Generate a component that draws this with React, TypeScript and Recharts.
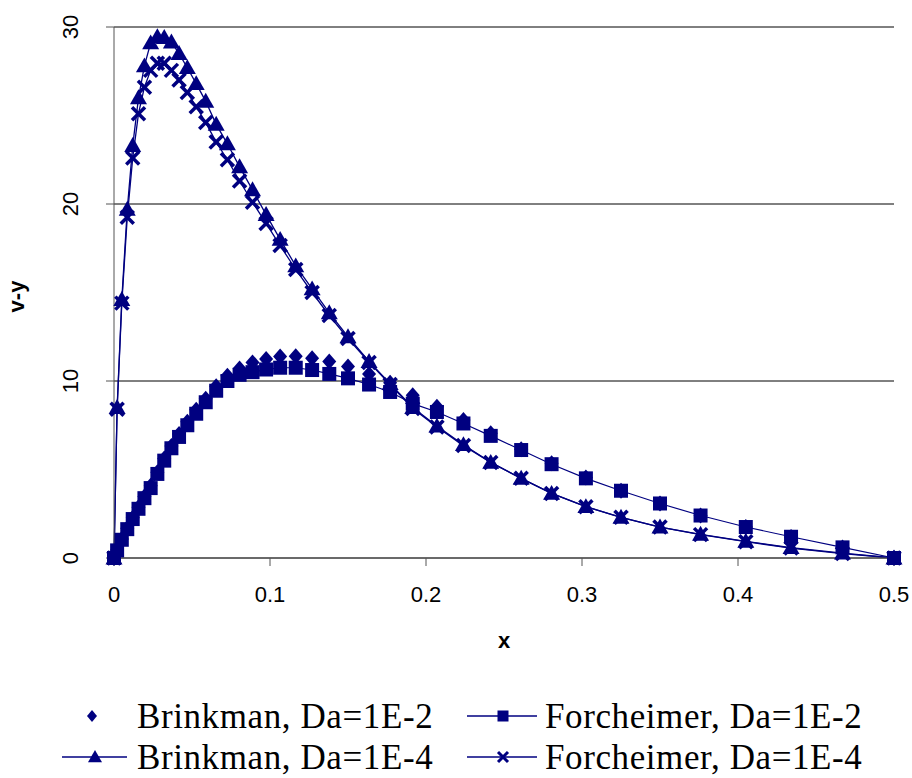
import React from 'react';
import { LineChart, Line, XAxis, YAxis, CartesianGrid, Legend } from 'recharts';

const NAVY = '#000080';

// shared x grid of all four series
const xs = [
  0, 0.002, 0.005, 0.0085, 0.012, 0.0157, 0.0195, 0.0235, 0.0278, 0.0322,
  0.0368, 0.0417, 0.047, 0.0527, 0.0588, 0.0655, 0.0727, 0.0805, 0.0888, 0.0975,
  0.1065, 0.1165, 0.127, 0.138, 0.15, 0.1635, 0.177, 0.1915, 0.207, 0.224,
  0.2415, 0.261, 0.2805, 0.3025, 0.325, 0.35, 0.376, 0.405, 0.434, 0.467, 0.5,
];

const brinkmanDa2 = [
  0, 0.45, 1.07, 1.68, 2.27, 2.87, 3.47, 4.08, 4.85, 5.62,
  6.33, 7.0, 7.7, 8.38, 9.0, 9.7, 10.3, 10.7, 11.05, 11.25,
  11.38, 11.4, 11.28, 11.1, 10.82, 10.4, 9.9, 9.2, 8.55, 7.8,
  7.05, 6.15, 5.35, 4.55, 3.8, 3.08, 2.4, 1.75, 1.18, 0.6, 0,
];

const forchDa2 = [
  0, 0.43, 1.03, 1.63, 2.2, 2.78, 3.38, 3.95, 4.75, 5.5,
  6.2, 6.84, 7.5, 8.15, 8.8, 9.45, 10.0, 10.35, 10.5, 10.65,
  10.75, 10.75, 10.62, 10.4, 10.15, 9.8, 9.38, 8.72, 8.25, 7.6,
  6.9, 6.1, 5.3, 4.5, 3.8, 3.08, 2.4, 1.75, 1.2, 0.6, 0,
];

const brinkmanDa4 = [
  0, 8.5, 14.6, 19.7, 23.3, 26.0, 27.8, 29.1, 29.45, 29.4,
  29.15, 28.5, 27.7, 26.8, 25.8, 24.5, 23.4, 22.1, 20.8, 19.4,
  18.0, 16.5, 15.2, 13.85, 12.5, 11.1, 9.85, 8.5, 7.45, 6.4,
  5.4, 4.5, 3.65, 2.9, 2.3, 1.75, 1.34, 0.94, 0.58, 0.27, 0,
];

const forchDa4 = [
  0, 8.4, 14.4, 19.25, 22.6, 25.1, 26.6, 27.55, 27.95, 27.95,
  27.55, 27.0, 26.3, 25.5, 24.6, 23.5, 22.5, 21.3, 20.1, 18.9,
  17.65, 16.3, 15.0, 13.7, 12.4, 11.05, 9.8, 8.45, 7.4, 6.35,
  5.4, 4.5, 3.65, 2.9, 2.3, 1.75, 1.32, 0.92, 0.56, 0.25, 0,
];

const xTicks = [0, 0.1, 0.2, 0.3, 0.4, 0.5];
const yTicks = [0, 10, 20, 30];

const toPoints = (vals: number[]) => xs.map((x, i) => ({ x, y: vals[i] }));

const diamondShape = (cx: number, cy: number, w: number, h: number, key?: string) => (
  <polygon key={key} points={`${cx},${cy - h} ${cx + w},${cy} ${cx},${cy + h} ${cx - w},${cy}`} fill={NAVY} />
);
const squareShape = (cx: number, cy: number, s: number, key?: string) => (
  <rect key={key} x={cx - s} y={cy - s} width={s * 2} height={s * 2} fill={NAVY} />
);
const triangleShape = (cx: number, cy: number, s: number, key?: string) => (
  <polygon key={key} points={`${cx},${cy - s} ${cx + s},${cy + s * 0.75} ${cx - s},${cy + s * 0.75}`} fill={NAVY} />
);
const crossShape = (cx: number, cy: number, s: number, w: number, key?: string) => (
  <g key={key} stroke={NAVY} strokeWidth={w}>
    <line x1={cx - s} y1={cy - s} x2={cx + s} y2={cy + s} />
    <line x1={cx - s} y1={cy + s} x2={cx + s} y2={cy - s} />
  </g>
);

const DiamondDot = (p: any) => diamondShape(p.cx, p.cy, 7, 8, `d${p.index}`);
const SquareDot = (p: any) => squareShape(p.cx, p.cy, 7, `s${p.index}`);
const TriangleDot = (p: any) => triangleShape(p.cx, p.cy, 8.5, `t${p.index}`);
const CrossDot = (p: any) => crossShape(p.cx, p.cy, 6.5, 3.5, `c${p.index}`);

const YTick = ({ x, y, payload }: any) => (
  <text
    x={x - 26}
    y={y}
    transform={`rotate(-90 ${x - 26} ${y})`}
    textAnchor="middle"
    fontFamily="Liberation Sans, Arial, sans-serif"
    fontSize={22}
    fill="#000"
  >
    {payload.value}
  </text>
);

const YLabel = ({ viewBox }: any) => {
  const cy = viewBox.y + viewBox.height / 2 + 4;
  return (
    <text
      x={24}
      y={cy}
      transform={`rotate(-90 24 ${cy})`}
      textAnchor="middle"
      fontFamily="Liberation Sans, Arial, sans-serif"
      fontWeight="bold"
      fontSize={22}
      fill="#000"
    >
      v-y
    </text>
  );
};

const XLabel = ({ viewBox }: any) => (
  <text
    x={viewBox.x + viewBox.width / 2}
    y={648}
    textAnchor="middle"
    fontFamily="Liberation Sans, Arial, sans-serif"
    fontWeight="bold"
    fontSize={22}
    fill="#000"
  >
    x
  </text>
);

const legendText = {
  fontFamily: 'Liberation Serif, Times New Roman, serif',
  fontSize: 35,
  letterSpacing: 0.6,
  fill: '#000',
};

const ChartLegend = () => (
  <svg width={912} height={80} style={{ display: 'block' }}>
    {diamondShape(92, 18, 5, 6)}
    <text x={137} y={30} {...legendText}>Brinkman, Da=1E-2</text>
    <line x1={467} y1={18} x2={537} y2={18} stroke={NAVY} strokeWidth={1.5} />
    {squareShape(503, 18, 5.5)}
    <text x={545} y={30} {...legendText}>Forcheimer, Da=1E-2</text>
    <line x1={62} y1={59} x2={127} y2={59} stroke={NAVY} strokeWidth={1.5} />
    {triangleShape(95, 59, 7)}
    <text x={137} y={71} {...legendText}>Brinkman, Da=1E-4</text>
    <line x1={467} y1={59} x2={537} y2={59} stroke={NAVY} strokeWidth={1.5} />
    {crossShape(503, 59, 5, 3)}
    <text x={545} y={71} {...legendText}>Forcheimer, Da=1E-4</text>
  </svg>
);

export default function App() {
  return (
    <div style={{ position: 'absolute', left: 0, top: 0, width: 912, height: 778, background: '#fff' }}>
      <LineChart width={912} height={778} margin={{ top: 27, right: 18, bottom: 0, left: 0 }} style={{ overflow: 'visible' }}>
        <CartesianGrid vertical={false} stroke="#000" strokeWidth={1} />
        <XAxis
          type="number"
          dataKey="x"
          domain={[0, 0.5]}
          ticks={xTicks}
          tickFormatter={(v: number) => String(v)}
          height={140}
          tickSize={8}
          tickMargin={20}
          stroke="#555"
          tick={{ fill: '#000', fontSize: 22, fontFamily: 'Liberation Sans, Arial, sans-serif' }}
          label={<XLabel />}
        />
        <YAxis
          type="number"
          domain={[0, 30]}
          ticks={yTicks}
          width={114}
          tickSize={8}
          stroke="#555"
          tick={<YTick />}
          label={<YLabel />}
        />
        <Legend verticalAlign="bottom" height={80} content={() => <ChartLegend />} wrapperStyle={{ left: 0, width: 912 }} />
        <Line data={toPoints(brinkmanDa2)} dataKey="y" name="Brinkman, Da=1E-2" stroke="none" dot={DiamondDot} isAnimationActive={false} />
        <Line data={toPoints(forchDa2)} dataKey="y" name="Forcheimer, Da=1E-2" stroke={NAVY} strokeWidth={1.2} dot={SquareDot} isAnimationActive={false} />
        <Line data={toPoints(brinkmanDa4)} dataKey="y" name="Brinkman, Da=1E-4" stroke={NAVY} strokeWidth={1.3} dot={TriangleDot} isAnimationActive={false} />
        <Line data={toPoints(forchDa4)} dataKey="y" name="Forcheimer, Da=1E-4" stroke={NAVY} strokeWidth={1.3} dot={CrossDot} isAnimationActive={false} />
      </LineChart>
    </div>
  );
}
